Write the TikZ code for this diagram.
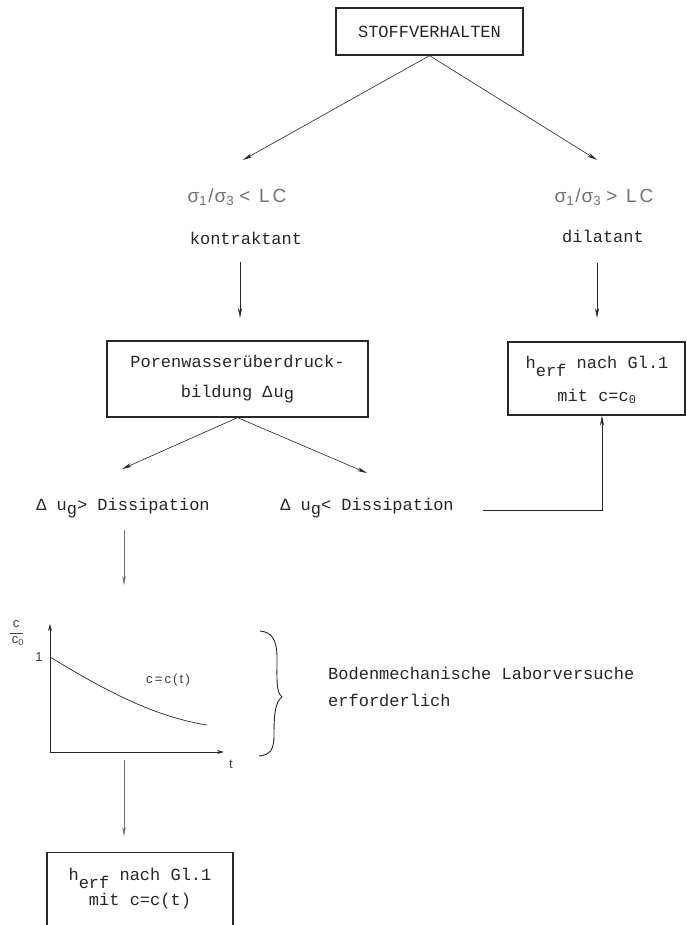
\documentclass[tikz,border=0pt]{standalone}
\usepackage{fontspec}
\setmainfont{Liberation Mono}
\setsansfont{Liberation Sans}
\usetikzlibrary{arrows.meta}
\begin{document}
\begin{tikzpicture}[x=1pt,y=-1pt,
  tt/.style={font=\fontsize{17}{30}\selectfont, text=black!85, inner sep=0pt},
  boxnode/.style={draw=black!85, line width=1.3pt, align=center, inner sep=0pt, text=black!85, font=\fontsize{17}{30}\selectfont},
  hand/.style={font=\sffamily\fontsize{19}{22}\selectfont, text=black!55, inner sep=0pt},
  gtxt/.style={font=\sffamily\fontsize{13}{14}\selectfont, text=black!75, inner sep=0pt},
  arr/.style={line width=0.6pt, draw=black!85, -{Stealth[length=10pt,width=4pt]}},
  thinarr/.style={line width=0.5pt, draw=black!55, -{Stealth[length=9pt,width=3.5pt,fill=black!85]}},
  axarr/.style={line width=0.7pt, draw=black!85, -{Stealth[length=7pt,width=4pt]}},
  ]
\clip (0,0) rectangle (686,925);
\fill[white] (0,0) rectangle (686,925);

% top box
\node[boxnode, minimum width=187pt, minimum height=47pt] (top) at (429.5,31.5) {STOFFVERHALTEN};
\coordinate (tL) at (243,160);
\coordinate (tR) at (597,160);
\draw[arr] (top.south) -- (tL);
\draw[arr] (top.south) -- (tR);

% conditions
\node[hand] (sigL) at (237,197) {σ\textsubscript{1}\kern1pt/\kern1pt σ\textsubscript{3} < \,L\kern3pt C};
\node[tt] (kon) at (246,238) {kontraktant};
\node[hand] (sigR) at (604,197) {σ\textsubscript{1}\kern1pt/\kern1pt σ\textsubscript{3} > \,L\kern3pt C};
\node[tt] (dil) at (603,236) {dilatant};

\coordinate (vL1) at (240,262);
\coordinate (vL2) at (240,318);
\coordinate (vR1) at (597,263);
\coordinate (vR2) at (597,318);
\draw[arr] (vL1) -- (vL2);
\draw[arr] (vR1) -- (vR2);

% middle boxes
\node[boxnode, minimum width=261pt, minimum height=76pt] (mid) at (237.5,379)
  {Porenwasserüberdruck-\\bildung Δ\kern1pt u\raisebox{-2pt}{g}};
\node[boxnode, minimum width=177pt, minimum height=73pt] (rbox) at (596.5,378.5) {};
\node[tt, align=center, font=\fontsize{17}{33}\selectfont] (rtxt) at (597,380)
  {h\raisebox{-8pt}{erf} nach Gl.1\\mit c=c\textsubscript{0}};

\coordinate (mL) at (122,469);
\coordinate (mR) at (367,473);
\draw[arr] (mid.south) -- (mL);
\draw[arr] (mid.south) -- (mR);

% dissipation
\node[tt] (dl) at (123,508) {Δ u\raisebox{-4pt}{g}> Dissipation};
\node[tt] (dr) at (367,508) {Δ u\raisebox{-4pt}{g}< Dissipation};

\coordinate (c1) at (483,510);
\coordinate (c2) at (602,510);
\draw[arr] (c1) -- (c2) -- (c2 |- rbox.south);

% arrow to graph
\coordinate (g1) at (124,530);
\coordinate (g2) at (124,585);
\draw[thinarr] (g1) -- (g2);

% graph
\coordinate (O) at (50,752);
\coordinate (Ytop) at (50,624);
\coordinate (Xend) at (224,752);
\draw[axarr] (O) -- (Ytop);
\draw[axarr] (O) -- (Xend);
\node[gtxt] (tlab) at (231,764) {t};
\node[gtxt] (one) at (39,657) {1};
\coordinate (cs) at (50,657);
\coordinate (ce) at (207,725);
\draw[line width=0.7pt, black!85] (cs) .. controls (98,686) and (150,716) .. (ce);
\node[gtxt] (cct) at (168,680) {c\,=\,c\,(\,t\,)};
\node[gtxt] (fc) at (16,624) {c};
\coordinate (fl1) at (10,633);
\coordinate (fl2) at (23,633);
\draw[line width=0.7pt, black!75] (fl1) -- (fl2);
\node[gtxt] (fc0) at (18,641) {c\textsubscript{0}};

% brace
\draw[line width=0.9pt, black!85] (260,631) .. controls (272,632) and (277,640) .. (277,658)
  .. controls (277,680) and (276,692) .. (282,697)
  .. controls (275,702) and (274,715) .. (274,735)
  .. controls (274,750) and (270,755) .. (259,756);
\node[tt, anchor=west] (lab1) at (328,673) {Bodenmechanische Laborversuche};
\node[tt, anchor=west] (lab2) at (328,700) {erforderlich};

% arrow to bottom box
\coordinate (b1) at (124,760);
\coordinate (b2) at (124,836);
\draw[thinarr] (b1) -- (b2);

% bottom box (cut off at the page edge)
\node[draw=black!85, line width=1.3pt, minimum width=186pt, minimum height=110pt, inner sep=0pt, anchor=north] (bot) at (140,852) {};
\node[tt, align=center, font=\fontsize{17}{25}\selectfont] (bottxt) at (140,889) {h\raisebox{-8pt}{erf} nach Gl.1\\mit c=c(t)};
\end{tikzpicture}
\end{document}
